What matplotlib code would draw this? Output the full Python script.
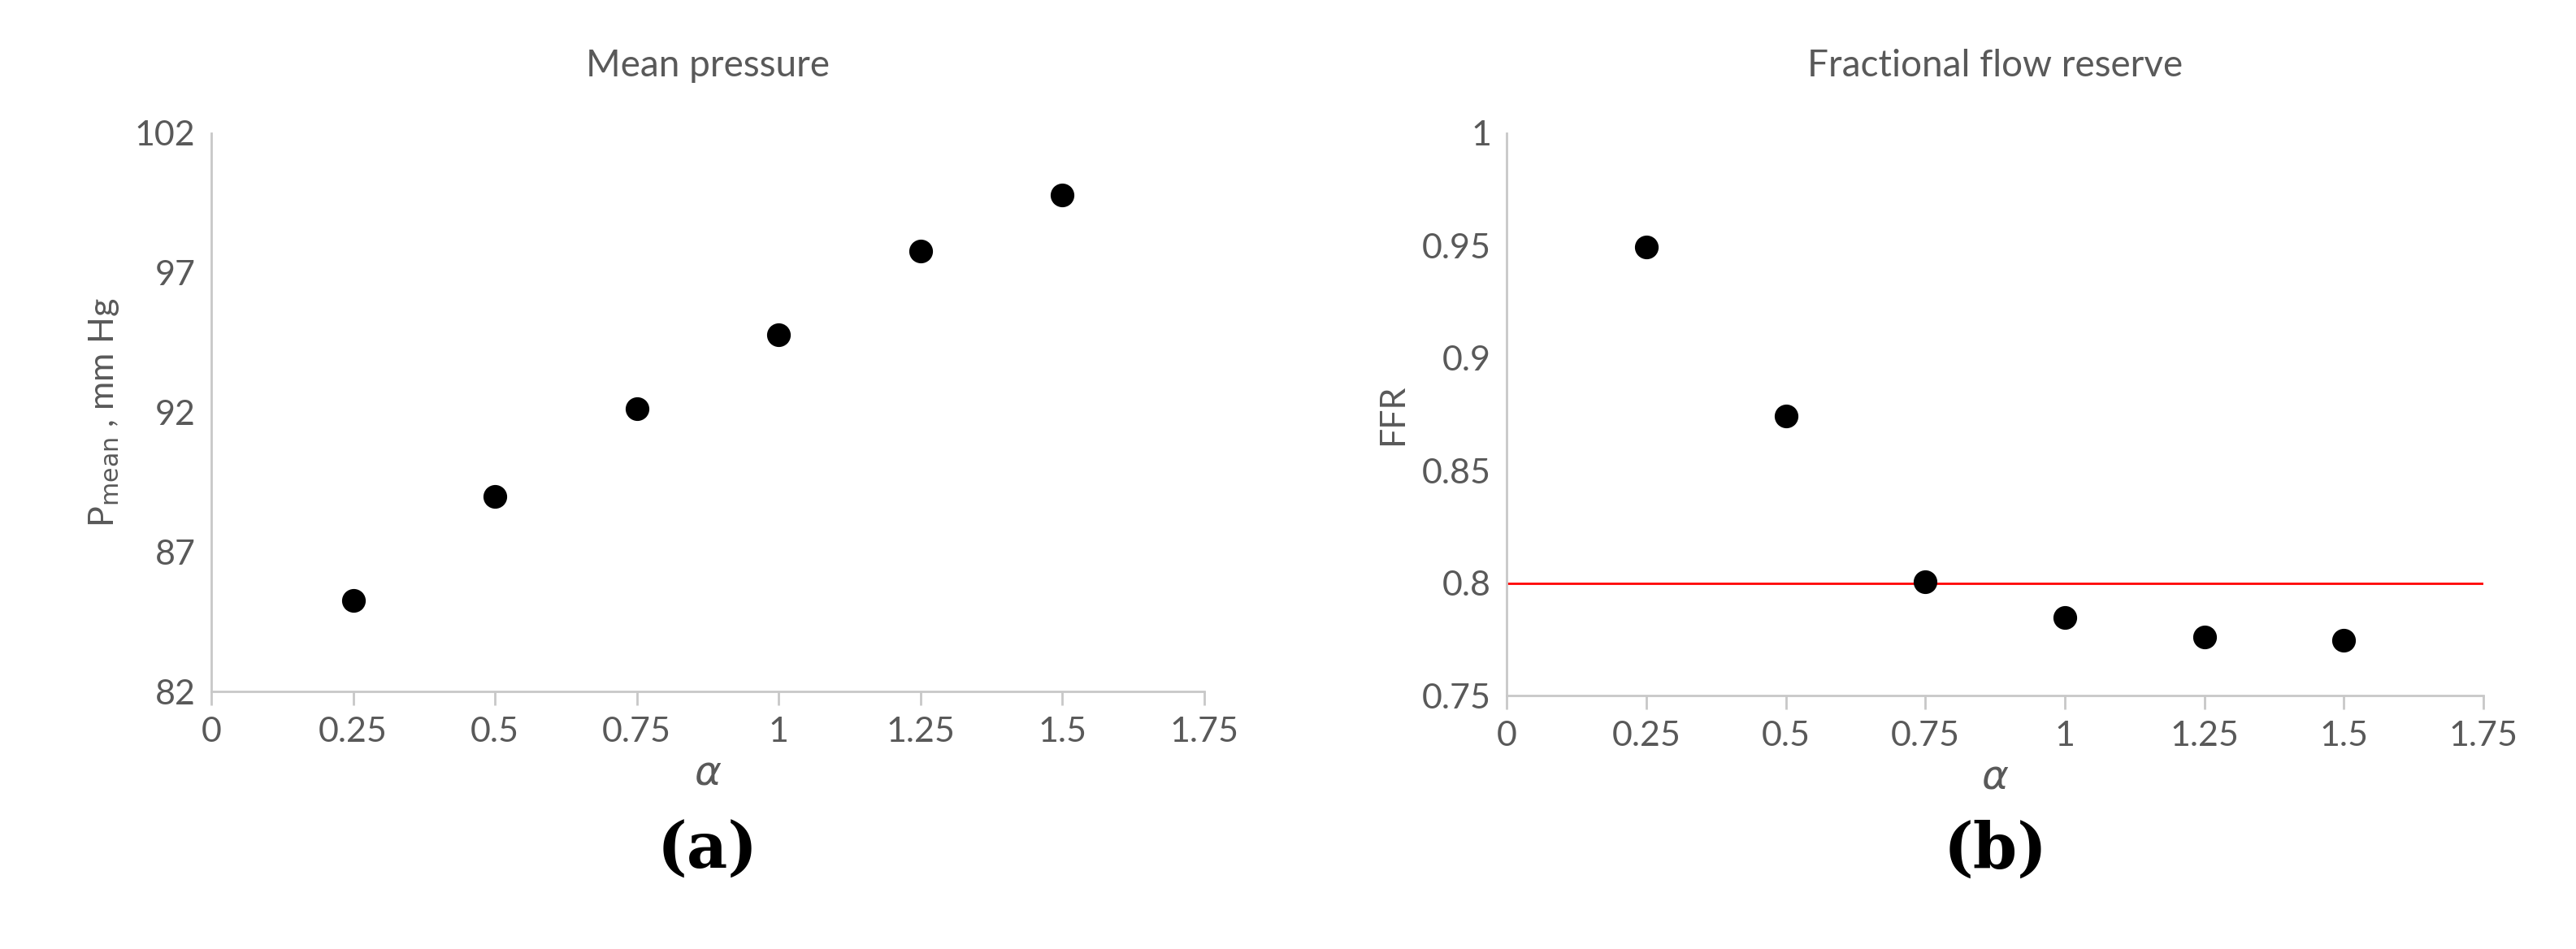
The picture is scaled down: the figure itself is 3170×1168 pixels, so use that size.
import numpy as np
import matplotlib.pyplot as plt

alpha = [0.25, 0.5, 0.75, 1.0, 1.25, 1.5]
p_mean = [85.26, 88.98, 92.12, 94.79, 97.76, 99.79]
ffr = [0.9494, 0.8743, 0.8006, 0.7847, 0.776, 0.7746]
ffr_cut = 0.8

grey = "#595959"
plt.rcParams['font.family'] = ['Lato', 'DejaVu Sans']

fig = plt.figure(figsize=(31.7, 11.68), dpi=100)
ax1 = fig.add_axes([0.082, 0.271, 0.3855, 0.589])
ax2 = fig.add_axes([0.585, 0.267, 0.379, 0.593])

def style(ax):
    for s in ['top', 'right']:
        ax.spines[s].set_visible(False)
    for s in ['left', 'bottom']:
        ax.spines[s].set_color("#c8c8c8")
        ax.spines[s].set_linewidth(2)
    ax.tick_params(colors=grey, labelsize=31, direction='out')
    ax.tick_params(axis='x', length=12, width=2, color="#c8c8c8", pad=10)
    ax.tick_params(axis='y', length=0, pad=14)
    ax.set_xlim(0, 1.75)
    ax.set_xticks(np.arange(0, 1.76, 0.25))
    ax.set_xticklabels(['0', '0.25', '0.5', '0.75', '1', '1.25', '1.5', '1.75'])
    ax.set_xlabel(r'$\alpha$', fontsize=36, color=grey, labelpad=6)

ax1.plot(alpha, p_mean, 'o', color='black', ms=20)
style(ax1)
ax1.set_ylim(82, 102)
ax1.set_yticks([82, 87, 92, 97, 102])
ax1.set_ylabel(r'P$_{\rm mean}$ , mm Hg', fontsize=31, color=grey, labelpad=12)
ax1.set_title('Mean pressure', fontsize=33, color=grey, pad=50)

ax2.axhline(ffr_cut, color='red', lw=2)
ax2.plot(alpha, ffr, 'o', color='black', ms=20)
style(ax2)
ax2.set_ylim(0.75, 1.0)
ax2.set_yticks([0.75, 0.8, 0.85, 0.9, 0.95, 1.0])
ax2.set_yticklabels(['0.75', '0.8', '0.85', '0.9', '0.95', '1'])
ax2.set_ylabel('FFR', fontsize=31, color=grey, labelpad=12)
ax2.set_title('Fractional flow reserve', fontsize=33, color=grey, pad=50)

fig.text(0.2745, 0.085, '(a)', fontsize=56, fontweight='bold', family='DejaVu Serif', ha='center')
fig.text(0.7745, 0.085, '(b)', fontsize=56, fontweight='bold', family='DejaVu Serif', ha='center')

fig.savefig('out.png', dpi=100, facecolor='white')
